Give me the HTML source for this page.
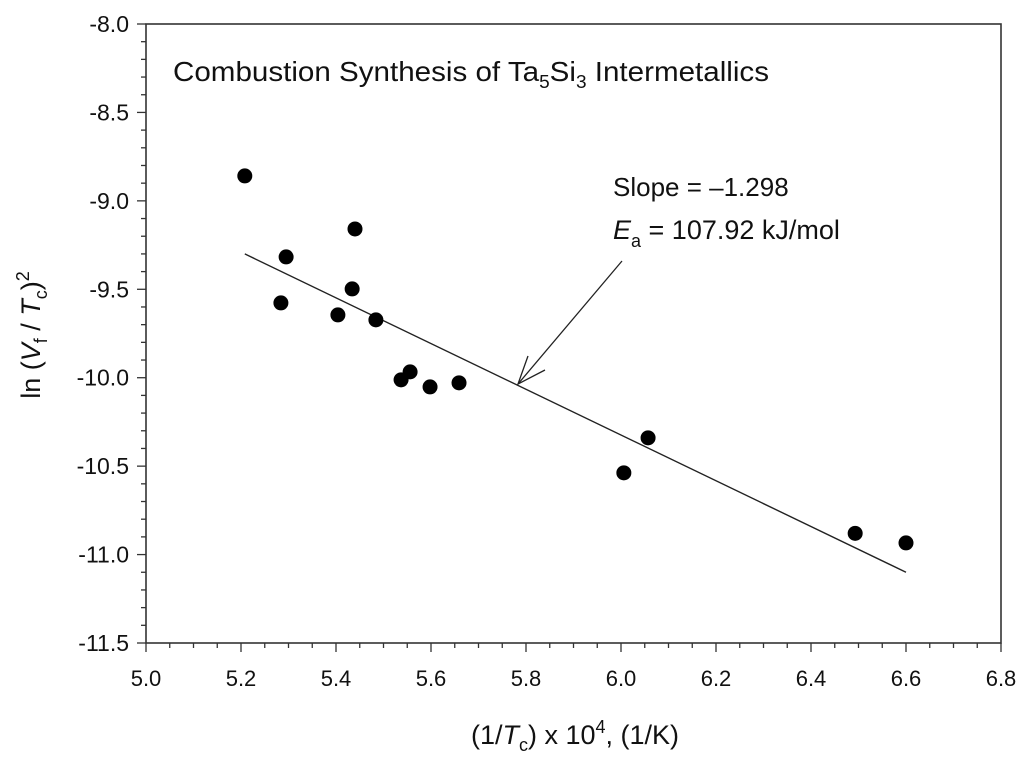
<!DOCTYPE html>
<html><head><meta charset="utf-8"><style>
body{margin:0;background:#fff}
svg{display:block;font-family:"Liberation Sans",Arial,sans-serif}
</style></head><body>
<svg id="chart" width="1024" height="767" viewBox="0 0 1024 767">
<g id="axes"></g>
<g id="marks"></g>
<text x="173" y="81" font-size="28" textLength="596" lengthAdjust="spacingAndGlyphs" fill="#111">Combustion Synthesis of Ta<tspan font-size="18" dy="7">5</tspan><tspan dy="-7">Si</tspan><tspan font-size="18" dy="7">3</tspan><tspan dy="-7"> Intermetallics</tspan></text>
<text x="613" y="196" font-size="26" fill="#111">Slope = –1.298</text>
<text x="613" y="239" font-size="27" fill="#111"><tspan font-style="italic">E</tspan><tspan font-size="18" dy="8">a</tspan><tspan dy="-8"> = 107.92 kJ/mol</tspan></text>
<g stroke="#222" stroke-width="1.3" fill="none">
<line x1="622" y1="261" x2="518" y2="384"/>
<polyline points="528,356 518,384 545,370"/>
</g>
<text x="575" y="744" font-size="27" text-anchor="middle" fill="#111">(1/<tspan font-style="italic">T</tspan><tspan font-size="18" dy="7">c</tspan><tspan dy="-7">) x 10</tspan><tspan font-size="18" dy="-11">4</tspan><tspan dy="11">, (1/K)</tspan></text>
<text transform="translate(40,335) rotate(-90)" font-size="27" text-anchor="middle" fill="#111">ln (<tspan font-style="italic">V</tspan><tspan font-size="18" dy="7">f</tspan><tspan dy="-7"> / </tspan><tspan font-style="italic">T</tspan><tspan font-size="18" dy="7">c</tspan><tspan dy="-7">)</tspan><tspan font-size="18" dy="-11">2</tspan></text>
</svg>
<script>
const xValues=[5.208,5.295,5.284,5.440,5.434,5.404,5.484,5.556,5.537,5.598,5.659,6.006,6.057,6.493,6.600];
const yValues=[-8.859,-9.317,-9.577,-9.159,-9.498,-9.645,-9.673,-9.967,-10.012,-10.052,-10.029,-10.538,-10.34,-10.88,-10.934];
const fitX=[5.208,6.600];
const fitY=[-9.30,-11.10];
const xTicks=["5.0","5.2","5.4","5.6","5.8","6.0","6.2","6.4","6.6","6.8"];
const yTicks=["-8.0","-8.5","-9.0","-9.5","-10.0","-10.5","-11.0","-11.5"];
const L=146,R=1001,T=24,B=643,X0=5.0,X1=6.8,Y0=-8.0,Y1=-11.5;
function sx(v){return L+(v-X0)/(X1-X0)*(R-L);}
function sy(v){return T+(v-Y0)/(Y1-Y0)*(B-T);}
const NS='http://www.w3.org/2000/svg';
function mk(tag,attrs,parent){const e=document.createElementNS(NS,tag);for(const k in attrs)e.setAttribute(k,attrs[k]);parent.appendChild(e);return e;}
const ax=document.getElementById('axes'),mg=document.getElementById('marks');
const frame=mk('rect',{x:L,y:T,width:R-L,height:B-T,fill:'none',stroke:'#333','stroke-width':1.6},ax);


for(let i=0;i<=36;i++){const v=X0+i*0.05;const x=sx(v);const major=i%4===0;
 const t=mk('line',{x1:x,y1:B,x2:x,y2:B+(major?9:5),stroke:'#333','stroke-width':1.3},ax);
 
 }
xTicks.forEach(s=>{const t=mk('text',{x:sx(parseFloat(s)),y:686,'font-size':22,'text-anchor':'middle',fill:'#111'},ax);t.textContent=s;
 
 });
for(let i=0;i<=35;i++){const v=Y0-i*0.1;const y=sy(v);const major=i%5===0;
 const t=mk('line',{x1:L,y1:y,x2:L-(major?9:5),y2:y,stroke:'#333','stroke-width':1.3},ax);
 
 }
yTicks.forEach(s=>{const t=mk('text',{x:129,y:sy(parseFloat(s))+8,'font-size':23,'text-anchor':'end',fill:'#111'},ax);t.textContent=s;
 
 });
const fit=mk('line',{x1:sx(fitX[0]),y1:sy(fitY[0]),x2:sx(fitX[1]),y2:sy(fitY[1]),stroke:'#222','stroke-width':1.4},mg);


xValues.forEach((xv,i)=>{const c=mk('circle',{cx:sx(xv),cy:sy(yValues[i]),r:7.5,fill:'#000'},mg);
 
 });
</script>
</body></html>
